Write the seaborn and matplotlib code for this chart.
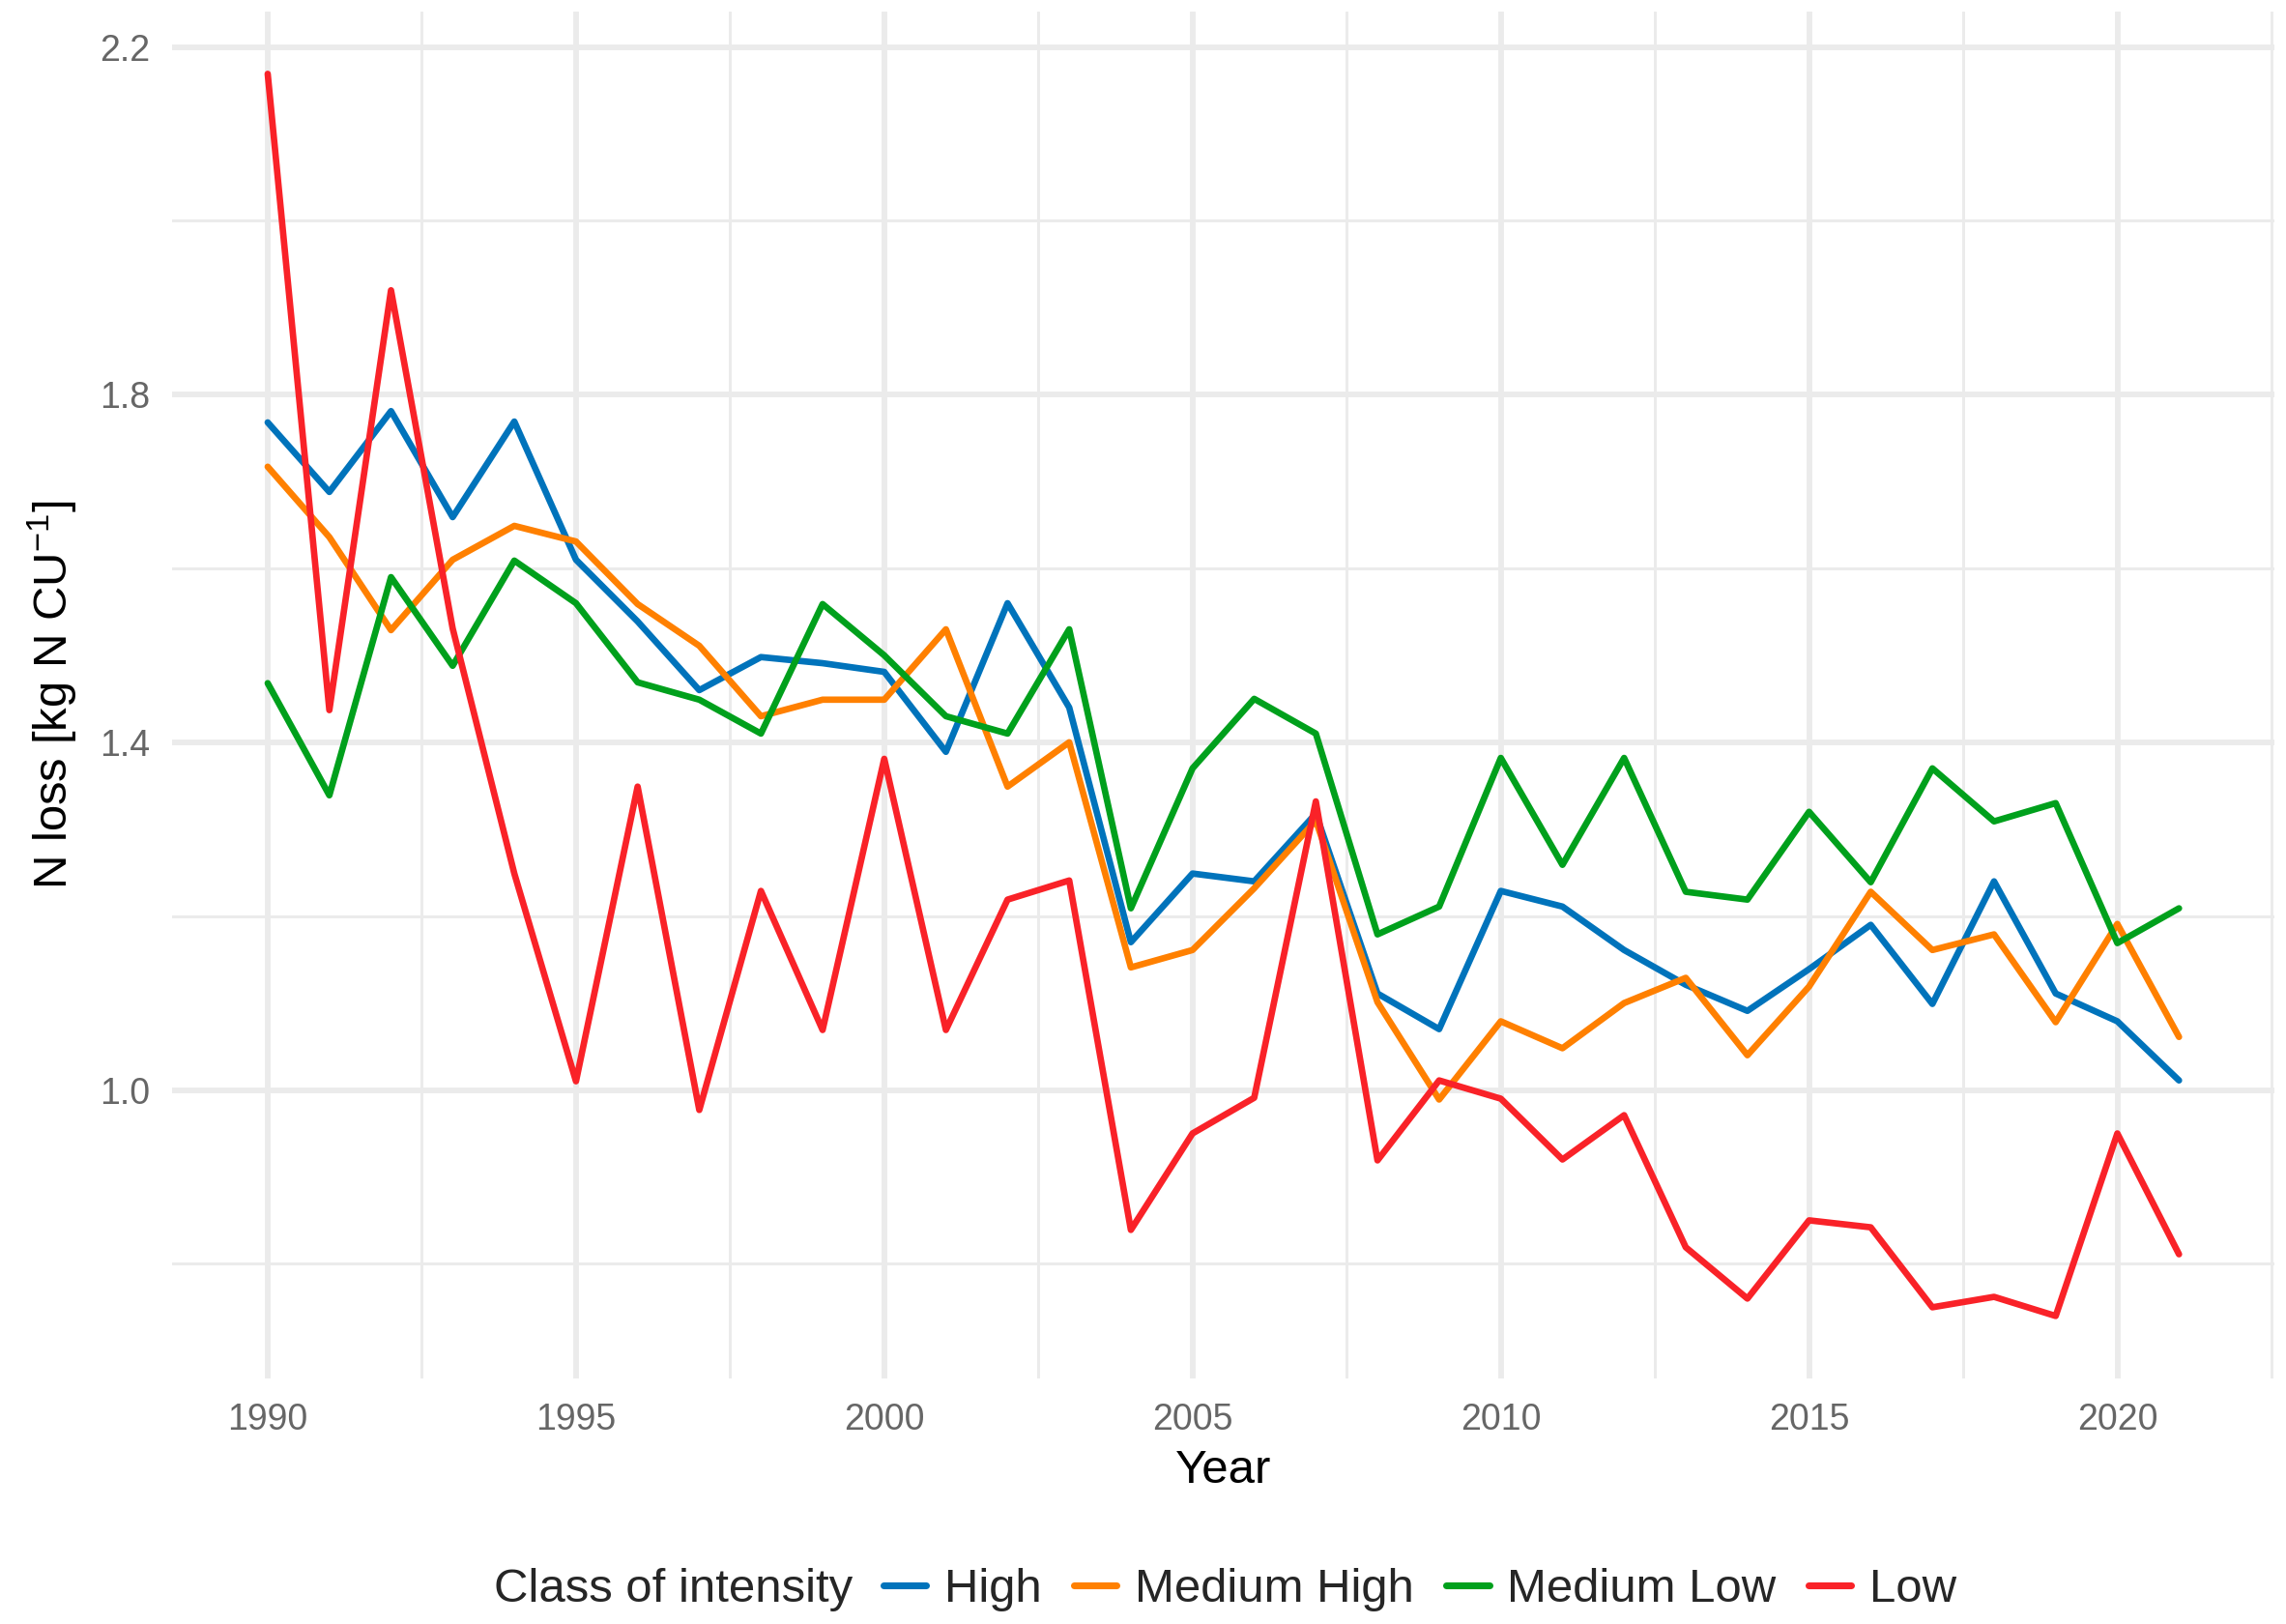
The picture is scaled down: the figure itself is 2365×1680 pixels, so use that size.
import matplotlib
matplotlib.use("Agg")
import matplotlib.pyplot as plt
import seaborn as sns
import pandas as pd

# N loss per class of intensity, 1990-2021
years = list(range(1990, 2022))
high = [1.768, 1.688, 1.781, 1.659, 1.769, 1.610, 1.539, 1.460, 1.498, 1.491,
        1.481, 1.389, 1.560, 1.440, 1.170, 1.249, 1.240, 1.318, 1.111, 1.070,
        1.229, 1.211, 1.161, 1.121, 1.091, 1.139, 1.190, 1.099, 1.240, 1.111,
        1.079, 1.011]
medium_high = [1.717, 1.636, 1.529, 1.610, 1.649, 1.631, 1.559, 1.511, 1.430, 1.449,
               1.449, 1.530, 1.349, 1.400, 1.141, 1.161, 1.232, 1.310, 1.101, 0.989,
               1.079, 1.048, 1.100, 1.129, 1.040, 1.119, 1.228, 1.161, 1.179, 1.078,
               1.191, 1.061]
medium_low = [1.468, 1.339, 1.590, 1.488, 1.609, 1.560, 1.469, 1.449, 1.410, 1.559,
              1.500, 1.430, 1.410, 1.530, 1.209, 1.370, 1.450, 1.410, 1.179, 1.211,
              1.382, 1.259, 1.382, 1.228, 1.219, 1.320, 1.239, 1.370, 1.309, 1.330,
              1.169, 1.209]
low = [2.169, 1.437, 1.920, 1.531, 1.249, 1.010, 1.349, 0.977, 1.229, 1.069,
       1.381, 1.069, 1.219, 1.241, 0.839, 0.950, 0.991, 1.332, 0.919, 1.011,
       0.990, 0.920, 0.971, 0.819, 0.760, 0.850, 0.842, 0.750, 0.762, 0.740,
       0.950, 0.811]

classes = ["High", "Medium High", "Medium Low", "Low"]
colors = ["#0073BB", "#FF8000", "#00A01C", "#F92228"]

df = pd.concat([
    pd.DataFrame({"Year": years, "N loss": vals, "Class": name})
    for name, vals in zip(classes, [high, medium_high, medium_low, low])
])

sns.set_theme(style="white")
plt.rcParams["font.family"] = ["Liberation Sans", "DejaVu Sans"]
plt.rcParams["mathtext.fontset"] = "custom"
plt.rcParams["mathtext.rm"] = "Liberation Sans"
plt.rcParams["mathtext.default"] = "regular"

fig = plt.figure(figsize=(2365 / 300, 1680 / 300), dpi=300)
ax = fig.add_axes([0.0753, 0.1514, 0.9197, 0.8414])

sns.lineplot(data=df, x="Year", y="N loss", hue="Class", hue_order=classes,
             palette=colors, linewidth=1.6, ax=ax)

ax.set_xlim(1988.45, 2022.55)
ax.set_ylim(0.6685, 2.2405)
ax.set_xticks([1990, 1995, 2000, 2005, 2010, 2015, 2020])
ax.set_xticks([1992.5, 1997.5, 2002.5, 2007.5, 2012.5, 2017.5, 2022.5], minor=True)
ax.set_yticks([1.0, 1.4, 1.8, 2.2])
ax.set_yticklabels(["1.0", "1.4", "1.8", "2.2"])
ax.set_yticks([0.8, 1.2, 1.6, 2.0], minor=True)

ax.grid(which="major", color="#EBEBEB", linewidth=1.4)
ax.grid(which="minor", color="#EBEBEB", linewidth=0.7)
ax.set_axisbelow(True)
for s in ax.spines.values():
    s.set_visible(False)
ax.tick_params(axis="both", which="both", length=0, labelsize=9, labelcolor="#666666")
ax.tick_params(axis="x", pad=6)
ax.tick_params(axis="y", pad=5.5)

ax.set_xlabel("Year", fontsize=11.8, color="black", labelpad=3)
ax.set_ylabel(r"N loss [kg N CU$^{-1}$]", fontsize=11.8, color="black", labelpad=5)

handles, labels = ax.get_legend_handles_labels()
ax.get_legend().remove()
for h in handles:
    h.set_linewidth(1.7)
fig.legend(handles, labels, loc="center left", bbox_to_anchor=(0.3865, 0.021),
           ncol=4, frameon=False, fontsize=11.8, borderpad=0, borderaxespad=0,
           handlelength=0.9, handletextpad=0.38, columnspacing=0.68)
fig.text(0.373, 0.021, "Class of intensity", ha="right", va="center", fontsize=11.8)

fig.savefig("out.png", dpi=300)
